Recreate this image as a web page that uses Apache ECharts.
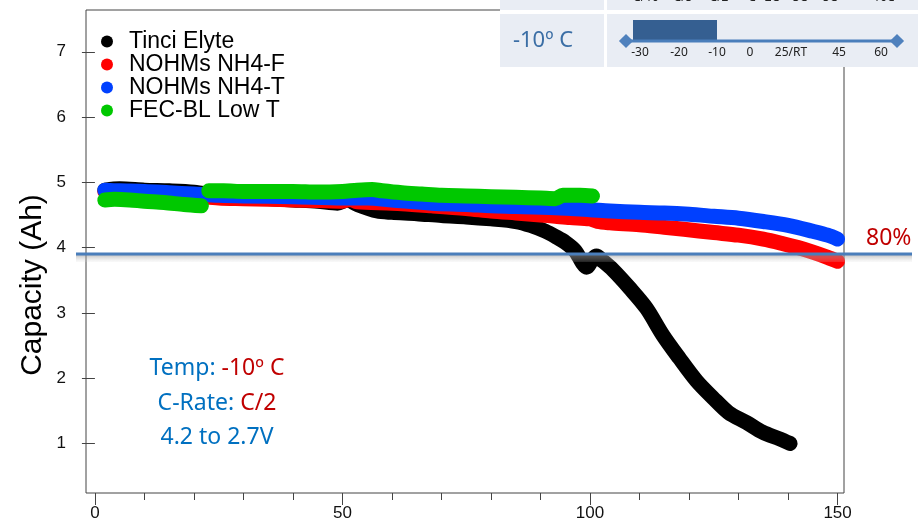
<!DOCTYPE html>
<html>
<head>
<meta charset="utf-8">
<script src="https://cdn.jsdelivr.net/npm/echarts@6/dist/echarts.min.js"></script>
<style>
html,body{margin:0;padding:0;background:#fff;}
#chart{width:918px;height:522px;}
</style>
</head>
<body>
<div id="chart"></div>
<script>
// capacity vs cycle
var tinciCycle = [2,5,10,15,20,25,30,35,40,45,49,51,53,57,60,65,70,75,80,85,88,91,93,95,97,98.5,99.3,100.5,101.3,102.5,104.6,108,111.4,114.7,118,121.5,124.8,128,131.6,134.9,138.3,140.4];
var tinciCap   = [4.88,4.90,4.88,4.87,4.85,4.80,4.77,4.75,4.73,4.71,4.68,4.73,4.66,4.56,4.54,4.52,4.49,4.47,4.44,4.40,4.34,4.25,4.17,4.08,3.95,3.76,3.70,3.82,3.87,3.80,3.66,3.38,3.07,2.66,2.31,1.96,1.70,1.47,1.32,1.17,1.07,1.00];

var nh4fCycle = [2,5,10,15,20,25,30,35,40,45,50,51.5,53,60,68,75,80,85,90,93,96,100,101.5,104,110,115,119,125,130,135,139,142,145,148,150];
var nh4fCap   = [4.86,4.85,4.83,4.81,4.79,4.76,4.75,4.74,4.73,4.72,4.71,4.74,4.70,4.68,4.64,4.60,4.56,4.53,4.50,4.48,4.46,4.44,4.40,4.38,4.35,4.31,4.28,4.23,4.19,4.13,4.06,4.00,3.93,3.85,3.79];

var nh4tCycle = [2,5,10,15,20,25,30,40,50,55,60,68,75,80,85,93,100,104,110,115,120,125,130,135,140,145,148,150];
var nh4tCap   = [4.88,4.87,4.86,4.84,4.82,4.80,4.79,4.78,4.76,4.76,4.73,4.68,4.66,4.64,4.63,4.61,4.58,4.56,4.54,4.53,4.51,4.48,4.45,4.40,4.34,4.25,4.19,4.13];

var fecCycleA = [2,4,7,10,14,18,21.5];
var fecCapA   = [4.73,4.74,4.73,4.71,4.69,4.66,4.64];
var fecCycleB = [23,26,30,35,40,45,50,53,56,58,62,66,70,75,80,85,90,93,94.5,98,100.5];
var fecCapB   = [4.87,4.87,4.86,4.86,4.86,4.85,4.86,4.88,4.89,4.87,4.84,4.82,4.80,4.79,4.78,4.77,4.76,4.75,4.80,4.80,4.79];

var names = ['Tinci Elyte','NOHMs NH4-F','NOHMs NH4-T','FEC-BL Low T'];
var colors = ['#000000','#ff0000','#0040ff','#00c800'];

var yTicks = [1,2,3,4,5,6,7];
var xMajor = [0,50,100,150];
var xMinor = [10,20,30,40,60,70,80,90,110,120,130,140];
var cutoff = 3.9;   // 80% line

// inset (temperature / c-rate table)
var rateLabels = ['C/10','C/5','C/2','C','2C','3C','5C','10C'];
var rateX = [646,683,719,752,772,800,830,884];
var tempLabels = ['-30','-20','-10','0','25/RT','45','60'];
var tempX = [640,679,717,750,791,839,881];

function pairs(xs, ys){
  var out = [];
  for (var i = 0; i < xs.length; i++) out.push([xs[i], ys[i]]);
  return out;
}

function line(name, color, data){
  return {
    name:name,
    type:'line',
    data:data,
    showSymbol:false,
    symbol:'circle',
    smooth:0.3,
    itemStyle:{color:color},
    lineStyle:{color:color, width:15, cap:'round', join:'round'},
    emphasis:{disabled:true},
    silent:true
  };
}

var chart = echarts.init(document.getElementById('chart'));
chart.setOption({
  animation:false,
  grid:{left:86, right:74, top:10, bottom:25, show:true, borderColor:'#444', borderWidth:1, backgroundColor:'transparent'},
  legend:{
    orient:'vertical', left:96, top:25,
    icon:'circle', itemWidth:34, itemHeight:12, itemGap:0,
    data:names,
    selectedMode:false,
    textStyle:{fontFamily:'Liberation Sans', fontSize:23, color:'#000', lineHeight:21}
  },
  xAxis:[
    {type:'value', min:-1.8, max:151.3, position:'bottom',
     axisLine:{show:false, onZero:false}, splitLine:{show:false},
     axisTick:{show:true, customValues:xMajor, length:12, lineStyle:{color:'#444'}},
     axisLabel:{customValues:xMajor, margin:12, fontFamily:'Liberation Sans', fontSize:17, color:'#111'}},
    {type:'value', min:-1.8, max:151.3, position:'bottom',
     axisLine:{show:false, onZero:false}, splitLine:{show:false},
     axisTick:{show:true, customValues:xMinor, length:7, lineStyle:{color:'#444'}},
     axisLabel:{show:true, customValues:xMinor, formatter:function(){ return ''; }}}
  ],
  yAxis:{type:'value', min:0.24, max:7.64,
    axisLine:{show:false}, splitLine:{show:false},
    axisTick:{show:true, customValues:yTicks, length:13, lineStyle:{color:'#444'}},
    axisLabel:{customValues:yTicks, margin:20, fontFamily:'Liberation Sans', fontSize:17, color:'#111'}},
  series:[
    line(names[0], colors[0], pairs(tinciCycle, tinciCap)),
    line(names[1], colors[1], pairs(nh4fCycle, nh4fCap)),
    line(names[2], colors[2], pairs(nh4tCycle, nh4tCap)),
    line(names[3], colors[3], pairs(fecCycleA, fecCapA)),
    line(names[3], colors[3], pairs(fecCycleB, fecCapB))
  ]
});

var yCut = chart.convertToPixel({yAxisIndex:0}, cutoff);

var inset = [
  {type:'rect', shape:{x:500, y:0, width:418, height:67}, style:{fill:'#e9edf4'}, z:100},
  {type:'rect', shape:{x:500, y:10, width:418, height:4}, style:{fill:'#ffffff'}, z:101},
  {type:'rect', shape:{x:604, y:0, width:3, height:67}, style:{fill:'#ffffff'}, z:101},
  {type:'text', x:543, y:41, z:102, style:{text:'-10º C', font:'22px "Noto Sans"', fill:'#3b6ea5', align:'center', verticalAlign:'middle'}},
  {type:'rect', shape:{x:633, y:20, width:84, height:20}, style:{fill:'#355f91'}, z:102},
  {type:'line', shape:{x1:626, y1:41, x2:897, y2:41}, style:{stroke:'#4a7ebb', lineWidth:3}, z:102},
  {type:'rect', shape:{x:-5, y:-5, width:10, height:10}, x:626, y:41, rotation:Math.PI/4, style:{fill:'#4f81bd'}, z:103},
  {type:'rect', shape:{x:-5, y:-5, width:10, height:10}, x:897, y:41, rotation:Math.PI/4, style:{fill:'#4f81bd'}, z:103}
];
rateLabels.forEach(function(t, i){
  inset.push({type:'text', x:rateX[i], y:-2, z:102, style:{text:t, font:'12px "Noto Sans"', fill:'#222', align:'center', verticalAlign:'middle'}});
});
tempLabels.forEach(function(t, i){
  inset.push({type:'text', x:tempX[i], y:53, z:102, style:{text:t, font:'12px "Noto Sans"', fill:'#222', align:'center', verticalAlign:'middle'}});
});

var notes = [
  {type:'text', x:217, y:368, z:60, style:{text:'{b|Temp: }{r|-10º C}', align:'center', verticalAlign:'middle',
    rich:{b:{fill:'#0070c0', font:'23px "Noto Sans"'}, r:{fill:'#c00000', font:'23px "Noto Sans"'}}}},
  {type:'text', x:217, y:403, z:60, style:{text:'{b|C-Rate: }{r|C/2}', align:'center', verticalAlign:'middle',
    rich:{b:{fill:'#0070c0', font:'23px "Noto Sans"'}, r:{fill:'#c00000', font:'23px "Noto Sans"'}}}},
  {type:'text', x:217, y:437, z:60, style:{text:'4.2 to 2.7V', align:'center', verticalAlign:'middle', fill:'#0070c0', font:'23px "Noto Sans"'}},
  {type:'text', x:33, y:285, rotation:Math.PI/2, z:60, style:{text:'Capacity (Ah)', align:'center', verticalAlign:'middle', fill:'#000', font:'30px "Liberation Sans"'}},
  {type:'rect', shape:{x:76, y:yCut+1, width:836, height:7}, z:80,
   style:{fill:new echarts.graphic.LinearGradient(0,0,0,1,[{offset:0,color:'rgba(150,150,150,0.55)'},{offset:1,color:'rgba(220,220,220,0.15)'}])}},
  {type:'line', shape:{x1:76, y1:yCut, x2:912, y2:yCut}, style:{stroke:'#4a7ebb', lineWidth:3}, z:81},
  {type:'text', x:866, y:yCut-16, z:82, style:{text:'80%', font:'23px "Noto Sans"', fill:'#c00000', align:'left', verticalAlign:'middle'}}
];

chart.setOption({graphic:notes.concat(inset)});
</script>
</body>
</html>
